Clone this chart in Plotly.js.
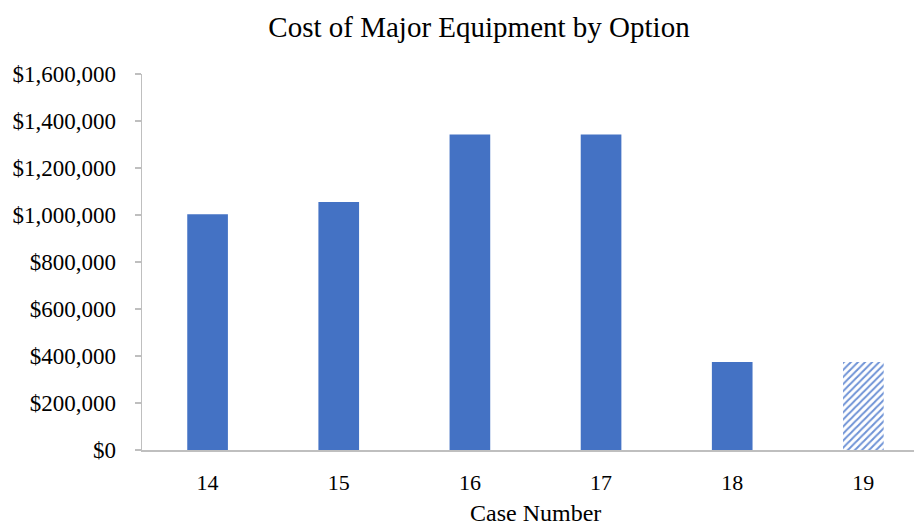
<!DOCTYPE html>
<html>
<head>
<meta charset="utf-8">
<script src="https://cdn.plot.ly/plotly-3.0.1.min.js"></script>
<style>html,body{margin:0;padding:0;background:#fff;}#chart{width:914px;height:525px;}</style>
</head>
<body>
<div id="chart"></div>
<script>
var categories = ["14", "15", "16", "17", "18", "19"];
var costs = [1003000, 1055000, 1343000, 1343000, 374000, 374000];
var estimated = [false, false, false, false, false, true];
var yTickValues = [0, 200000, 400000, 600000, 800000, 1000000, 1200000, 1400000, 1600000];
var yTickLabels = ["$0", "$200,000", "$400,000", "$600,000", "$800,000", "$1,000,000", "$1,200,000", "$1,400,000", "$1,600,000"];

var blue = "#4472C4";
var solidX = [], solidY = [], hatchX = [], hatchY = [];
categories.forEach(function (c, i) {
  if (estimated[i]) { hatchX.push(c); hatchY.push(costs[i]); }
  else { solidX.push(c); solidY.push(costs[i]); }
});

var solidTrace = {
  type: "bar",
  x: solidX,
  y: solidY,
  marker: {color: blue, line: {width: 0}},
  hoverinfo: "none"
};
var hatchTrace = {
  type: "bar",
  x: hatchX,
  y: hatchY,
  marker: {
    color: "#ffffff",
    line: {width: 0},
    pattern: {shape: "/", fgcolor: "#6F93D6", bgcolor: "#ffffff", size: 5, solidity: 0.4}
  },
  hoverinfo: "none"
};

var font = {family: "Liberation Serif, Times New Roman, serif", color: "#000000"};

var layout = {
  width: 914,
  height: 525,
  margin: {l: 142, r: 0, t: 74, b: 75},
  paper_bgcolor: "#ffffff",
  plot_bgcolor: "#ffffff",
  font: font,
  showlegend: false,
  barmode: "overlay",
  bargap: 0.69,
  title: {
    text: "Cost of Major Equipment by Option",
    font: {family: font.family, size: 29, color: "#000000"},
    x: 479 / 914, xanchor: "center", xref: "container",
    y: 1 - 27 / 525, yanchor: "middle", yref: "container"
  },
  xaxis: {
    type: "category",
    categoryorder: "array",
    categoryarray: categories,
    range: [-0.5, 5.386],
    showline: true,
    linecolor: "#BFBFBF",
    linewidth: 1.5,
    ticks: "",
    showgrid: false,
    zeroline: false,
    tickfont: {family: font.family, size: 22, color: "#000000"},
    ticklabelstandoff: 12,
    fixedrange: true
  },
  yaxis: {
    range: [0, 1600000],
    tickvals: yTickValues,
    ticktext: yTickLabels,
    showline: true,
    linecolor: "#BFBFBF",
    linewidth: 1.5,
    ticks: "outside",
    ticklen: 6,
    tickcolor: "#BFBFBF",
    tickwidth: 1.5,
    showgrid: false,
    zeroline: false,
    tickfont: {family: font.family, size: 23, color: "#000000"},
    ticklabelstandoff: 14,
    fixedrange: true
  },
  annotations: [{
    text: "Case Number",
    xref: "x", x: 2.5,
    yref: "paper", y: 0,
    yanchor: "middle", yshift: -63,
    showarrow: false,
    font: {family: font.family, size: 24, color: "#000000"}
  }]
};

Plotly.newPlot("chart", [solidTrace, hatchTrace], layout, {displayModeBar: false, staticPlot: true});
</script>
</body>
</html>
